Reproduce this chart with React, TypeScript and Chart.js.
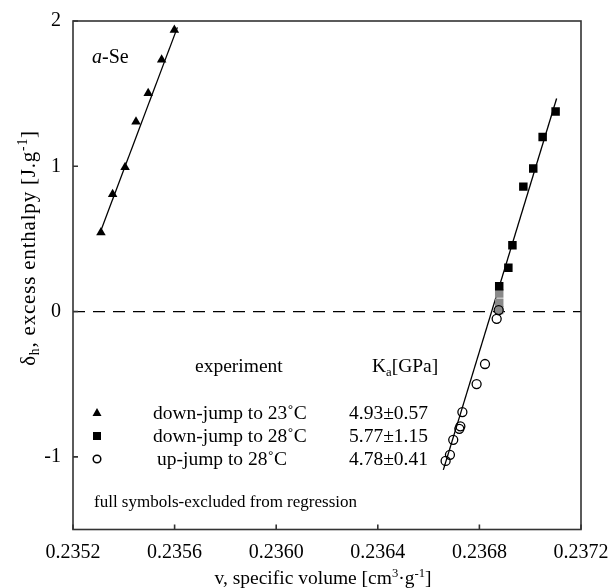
import React, { useEffect, useRef } from "react";
import { Chart, registerables } from "chart.js";

Chart.register(...registerables);

const FONT = '"Liberation Serif", "Times New Roman", serif';

// Axis ranges and ticks
const xMin = 0.2352;
const xMax = 0.2372;
const yMin = -1.5;
const yMax = 2;
const xTicks = [0.2352, 0.2356, 0.236, 0.2364, 0.2368, 0.2372];
const xTickLabels = ["0.2352", "0.2356", "0.2360", "0.2364", "0.2368", "0.2372"];
const yTicks = [-1, 0, 1, 2];
const yTickLabels = ["-1", "0", "1", "2"];

// down-jump to 23 °C (triangles)
const triX = [0.23531, 0.235356, 0.235405, 0.235448, 0.235496, 0.235549, 0.235599];
const triY = [0.545, 0.807, 0.993, 1.306, 1.503, 1.733, 1.938];

// down-jump to 28 °C (black squares)
const sqX = [0.2371, 0.237049, 0.237012, 0.236973, 0.23693, 0.236914, 0.236878];
const sqY = [1.377, 1.202, 0.984, 0.86, 0.457, 0.301, 0.175];

// down-jump to 28 °C (grey squares)
const sqGrayX = [0.236878, 0.236878, 0.236878];
const sqGrayY = [0.125, 0.06, 0.01];

// up-jump to 28 °C (open circles)
const circX = [0.236876, 0.236868, 0.236822, 0.236789, 0.236733, 0.236725, 0.236721, 0.236697, 0.236684, 0.236667];
const circY = [0.01, -0.05, -0.361, -0.499, -0.692, -0.79, -0.807, -0.883, -0.986, -1.028];

// regression lines
const fitAX = [0.235304, 0.235611];
const fitAY = [0.531, 1.956];
const fitBX = [0.236658, 0.237104];
const fitBY = [-1.09, 1.467];

// zero reference line
const zeroX = [0.2352, 0.2372];
const zeroY = [0, 0];

type Seg = { t: string; sup?: boolean; sub?: boolean; italic?: boolean };

function pts(xs: number[], ys: number[]) {
  return xs.map((x, i) => ({ x, y: ys[i] }));
}

function drawRich(
  ctx: CanvasRenderingContext2D,
  segs: Seg[],
  x: number,
  y: number,
  size: number,
  align: "left" | "center",
  spacing = 0
) {
  const c: any = ctx;
  c.letterSpacing = spacing + "px";
  const fontFor = (s: Seg) =>
    `${s.italic ? "italic " : ""}${s.sup || s.sub ? size * 0.65 : size}px ${FONT}`;
  let w = 0;
  for (const s of segs) {
    ctx.font = fontFor(s);
    w += ctx.measureText(s.t).width;
  }
  let cx = align === "center" ? x - w / 2 : x;
  ctx.textAlign = "left";
  ctx.textBaseline = "alphabetic";
  const base = y + size * 0.33;
  for (const s of segs) {
    ctx.font = fontFor(s);
    const dy = s.sup ? -size * 0.38 : s.sub ? size * 0.2 : 0;
    ctx.fillText(s.t, cx, base + dy);
    cx += ctx.measureText(s.t).width;
  }
  c.letterSpacing = "0px";
}

const decorPlugin = {
  id: "decor",
  afterDraw(chart: any) {
    const ctx: CanvasRenderingContext2D = chart.ctx;
    const { left, right, top, bottom } = chart.chartArea;
    const xs = chart.scales.x;
    const ys = chart.scales.y;
    ctx.save();
    // frame
    ctx.strokeStyle = "#333";
    ctx.lineWidth = 1.6;
    ctx.strokeRect(left, top, right - left, bottom - top);
    // inward ticks
    ctx.beginPath();
    for (const v of xTicks) {
      const px = xs.getPixelForValue(v);
      ctx.moveTo(px, bottom);
      ctx.lineTo(px, bottom - 5);
    }
    for (const v of yTicks) {
      const py = ys.getPixelForValue(v);
      ctx.moveTo(left, py);
      ctx.lineTo(left + 5, py);
    }
    ctx.stroke();

    ctx.fillStyle = "#000";
    // panel label
    drawRich(ctx, [{ t: "a", italic: true }, { t: "-Se" }], 92, 56, 20, "left");

    // legend header
    drawRich(ctx, [{ t: "experiment" }], 195, 366, 19.5, "left");
    drawRich(ctx, [{ t: "K" }, { t: "a", sub: true }, { t: "[GPa]" }], 372, 366, 19.5, "left");

    // legend rows
    drawRich(ctx, [{ t: "down-jump to 23˚C" }], 153, 413, 19.5, "left");
    drawRich(ctx, [{ t: "4.93±0.57" }], 349, 413, 19.5, "left");
    drawRich(ctx, [{ t: "down-jump to 28˚C" }], 153, 436, 19.5, "left");
    drawRich(ctx, [{ t: "5.77±1.15" }], 349, 436, 19.5, "left");
    drawRich(ctx, [{ t: "up-jump to 28˚C" }], 157, 459, 19.5, "left");
    drawRich(ctx, [{ t: "4.78±0.41" }], 349, 459, 19.5, "left");
    drawRich(ctx, [{ t: "full symbols-excluded from regression" }], 94, 501, 17, "left");

    // legend markers
    ctx.fillStyle = "#000";
    ctx.beginPath();
    ctx.moveTo(97, 408);
    ctx.lineTo(101.5, 416);
    ctx.lineTo(92.5, 416);
    ctx.closePath();
    ctx.fill();
    ctx.fillRect(93, 432, 8, 8);
    ctx.beginPath();
    ctx.lineWidth = 1.5;
    ctx.strokeStyle = "#000";
    ctx.arc(97, 459, 3.8, 0, Math.PI * 2);
    ctx.stroke();

    // axis titles
    ctx.fillStyle = "#000";
    drawRich(
      ctx,
      [{ t: "v, specific volume [cm" }, { t: "3", sup: true }, { t: "·g" }, { t: "-1", sup: true }, { t: "]" }],
      323,
      578,
      19.5,
      "center"
    );
    ctx.save();
    ctx.translate(28, 248);
    ctx.rotate(-Math.PI / 2);
    drawRich(
      ctx,
      [{ t: "δ" }, { t: "h", sub: true }, { t: ", excess enthalpy [J.g" }, { t: "-1", sup: true }, { t: "]" }],
      0,
      0,
      21,
      "center",
      0.8
    );
    ctx.restore();
    ctx.restore();
  },
};

export default function App() {
  const ref = useRef<HTMLCanvasElement | null>(null);
  useEffect(() => {
    if (!ref.current) return;
    const chart = new Chart(ref.current, {
      type: "scatter",
      data: {
        datasets: [
          {
            label: "zero",
            data: pts(zeroX, zeroY),
            showLine: true,
            borderColor: "#000",
            borderWidth: 1.2,
            borderDash: [12, 8],
            pointRadius: 0,
            order: 10,
          },
          {
            label: "fit 23",
            data: pts(fitAX, fitAY),
            showLine: true,
            borderColor: "#000",
            borderWidth: 1.3,
            pointRadius: 0,
            order: 9,
          },
          {
            label: "fit 28",
            data: pts(fitBX, fitBY),
            showLine: true,
            borderColor: "#000",
            borderWidth: 1.3,
            pointRadius: 0,
            order: 9,
          },
          {
            label: "grey squares",
            data: pts(sqGrayX, sqGrayY),
            pointStyle: "rect",
            pointRadius: 6,
            backgroundColor: "#8a8a8a",
            borderColor: "#8a8a8a",
            borderWidth: 0,
            order: 5,
          },
          {
            label: "up-jump to 28˚C",
            data: pts(circX, circY),
            pointStyle: "circle",
            pointRadius: 4.5,
            backgroundColor: "rgba(0,0,0,0)",
            borderColor: "#000",
            borderWidth: 1.3,
            order: 4,
          },
          {
            label: "down-jump to 28˚C",
            data: pts(sqX, sqY),
            pointStyle: "rect",
            pointRadius: 6,
            backgroundColor: "#000",
            borderColor: "#000",
            borderWidth: 0,
            order: 3,
          },
          {
            label: "down-jump to 23˚C",
            data: pts(triX, triY),
            pointStyle: "triangle",
            pointRadius: 5.5,
            backgroundColor: "#000",
            borderColor: "#000",
            borderWidth: 0,
            order: 2,
          },
        ],
      },
      options: {
        animation: false,
        responsive: false,
        maintainAspectRatio: false,
        events: [],
        layout: { padding: { top: 21, right: 29, left: 0, bottom: 0 } },
        plugins: { legend: { display: false }, tooltip: { enabled: false } },
        scales: {
          x: {
            type: "linear",
            min: xMin,
            max: xMax,
            afterBuildTicks: (s: any) => {
              s.ticks = xTicks.map((v) => ({ value: v }));
            },
            afterFit: (s: any) => {
              s.height = 58.5;
              s.paddingLeft = 0;
              s.paddingRight = 0;
            },
            grid: { display: false, drawTicks: false },
            border: { display: false },
            ticks: {
              autoSkip: false,
              maxRotation: 0,
              padding: 11,
              color: "#000",
              font: { family: FONT, size: 20 },
              callback: (v: any) => {
                const i = xTicks.indexOf(Number(v));
                return i >= 0 ? xTickLabels[i] : "";
              },
            },
          },
          y: {
            type: "linear",
            min: yMin,
            max: yMax,
            afterBuildTicks: (s: any) => {
              s.ticks = yTicks.map((v) => ({ value: v }));
            },
            afterFit: (s: any) => {
              s.width = 73;
              s.paddingTop = 0;
              s.paddingBottom = 0;
            },
            grid: { display: false, drawTicks: false },
            border: { display: false },
            ticks: {
              autoSkip: false,
              padding: 12,
              color: "#000",
              font: { family: FONT, size: 20 },
              callback: (v: any) => {
                const i = yTicks.indexOf(Number(v));
                return i >= 0 ? yTickLabels[i] : "";
              },
            },
          },
        },
      },
      plugins: [decorPlugin],
    } as any);
    return () => chart.destroy();
  }, []);
  return (
    <div style={{ position: "absolute", left: 0, top: 0, width: 610, height: 588, background: "#fff" }}>
      <canvas ref={ref} width={610} height={588} style={{ display: "block", width: 610, height: 588 }} />
    </div>
  );
}
